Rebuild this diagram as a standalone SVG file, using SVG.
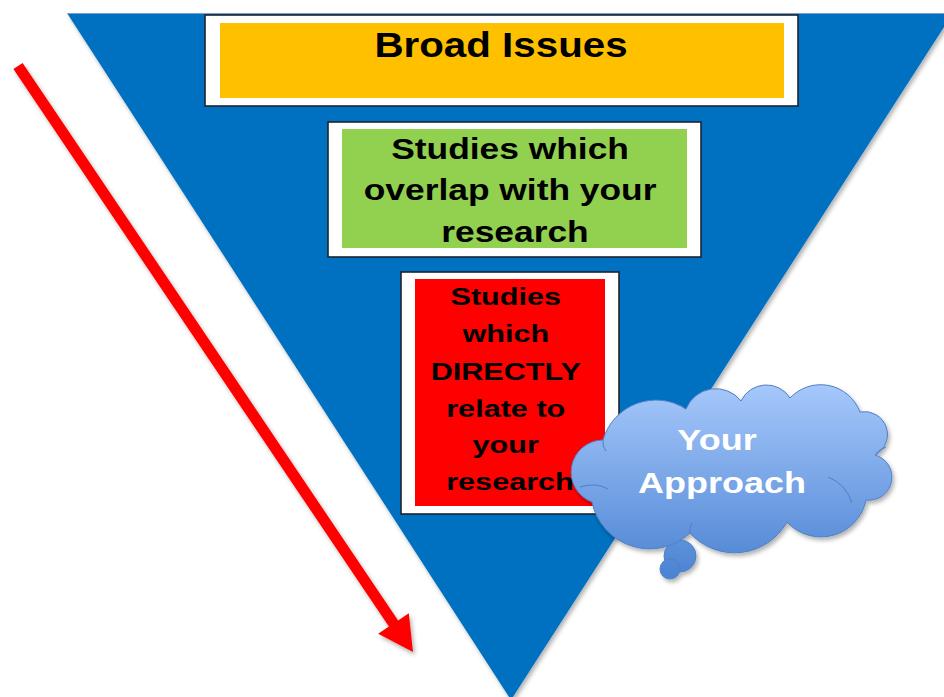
<svg xmlns="http://www.w3.org/2000/svg" width="944" height="697" viewBox="0 0 944 697">
  <defs>
    <style>
      .frame { fill: #ffffff; stroke: #1c2430; stroke-width: 1.6; }
      .lbl { font-family: "Liberation Sans", Arial, sans-serif; font-weight: bold; fill: #000000; text-anchor: middle; }
      .cloudlbl { font-family: "Liberation Sans", Arial, sans-serif; font-weight: bold; fill: #ffffff; text-anchor: middle; }
      .cloudline { fill: none; stroke: #4f7fc4; stroke-width: 1; }
    </style>
    <filter id="shadow" x="-10%" y="-10%" width="130%" height="130%">
      <feDropShadow dx="2" dy="3" stdDeviation="2" flood-color="#000000" flood-opacity="0.3"/>
    </filter>
    <linearGradient id="cloudGrad" gradientUnits="userSpaceOnUse" x1="0" y1="385" x2="0" y2="580">
      <stop offset="0" stop-color="#a6c8fb"/>
      <stop offset="1" stop-color="#4a82d2"/>
    </linearGradient>
  </defs>

  <rect x="0" y="0" width="944" height="697" fill="#ffffff"/>

  <g id="funnel">
    <polygon points="67,13 953,13 511,700" fill="#0070c0" filter="url(#shadow)"/>
    <line x1="67" y1="13.5" x2="944" y2="13.5" stroke="#7f9fc8" stroke-width="1"/>
  </g>

  <g id="arrow">
    <polygon points="22.6,62.9 398.1,620.4 408.8,613.2 413,652 378.2,633.8 388.9,626.6 13.4,69.1" fill="#ff0000" filter="url(#shadow)"/>
  </g>

  <g id="broad-issues">
    <rect class="frame" x="205" y="15" width="593" height="91"/>
    <rect x="220" y="23" width="564" height="75" fill="#ffc000"/>
    <text class="lbl" font-size="36" transform="translate(501,56.5) scale(1.12,1)">Broad Issues</text>
  </g>

  <g id="overlap-studies">
    <rect class="frame" x="328" y="122" width="373" height="135"/>
    <rect x="342" y="129" width="345" height="119" fill="#92d050"/>
    <text class="lbl" font-size="29" transform="translate(515,159) scale(1.22,1)">
      <tspan x="0" y="0">Studies which</tspan>
      <tspan x="0" y="41.5">overlap with your</tspan>
      <tspan x="0" y="83">research</tspan>
    </text>
  </g>

  <g id="direct-studies">
    <rect class="frame" x="401" y="272" width="218" height="242"/>
    <rect x="415" y="279" width="190" height="227" fill="#ff0000"/>
    <text class="lbl" font-size="24.5" transform="translate(510,305) scale(1.25,1)">
      <tspan x="0" y="0">Studies</tspan>
      <tspan x="0" y="37.5">which</tspan>
      <tspan x="0" y="75">DIRECTLY</tspan>
      <tspan x="0" y="112">relate to</tspan>
      <tspan x="0" y="148">your</tspan>
      <tspan x="0" y="185">research</tspan>
    </text>
  </g>

  <g id="your-approach">
    <g filter="url(#shadow)">
      <circle cx="680" cy="556" r="16" fill="url(#cloudGrad)" stroke="#4f7fc4" stroke-width="1"/>
      <circle cx="670" cy="569" r="10" fill="url(#cloudGrad)" stroke="#4f7fc4" stroke-width="1"/>
      <path d="M603,440 A55,55 0 0 1 686,409 A32,32 0 0 1 741,401 A28,28 0 0 1 790,398 A42,42 0 0 1 860,412 A23,23 0 0 1 875,455 A23,23 0 0 1 866,500 A46,46 0 0 1 787,522 A60,60 0 0 1 690,533 A59,59 0 0 1 592,502 A32,32 0 0 1 603,440 Z" fill="url(#cloudGrad)" stroke="#4f7fc4" stroke-width="1"/>
    </g>
    <path class="cloudline" d="M828,477 Q846,484 852,503"/>
    <path class="cloudline" d="M580,487 Q596,482 608,489"/>
    <path class="cloudline" d="M875,455 Q879,449 886,447"/>
    <path class="cloudline" d="M603,440 Q602,446 606,451"/>
    <path class="cloudline" d="M686,409 Q681,405 676,404"/>
    <path class="cloudline" d="M690,533 Q689,528 692,523"/>
    <text class="cloudlbl" font-size="30" transform="translate(722,450) scale(1.2,1)">
      <tspan x="0" y="0">Your</tspan>
      <tspan x="0" y="43">Approach</tspan>
    </text>
  </g>
</svg>
